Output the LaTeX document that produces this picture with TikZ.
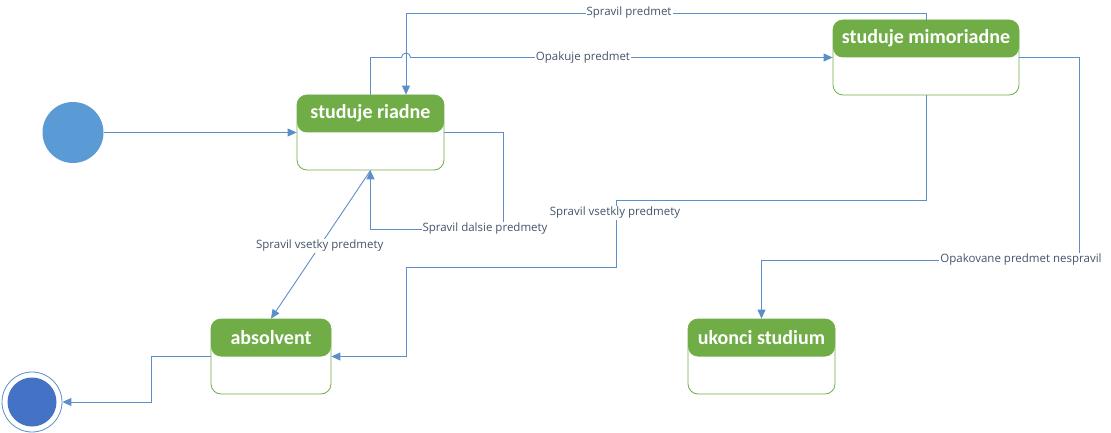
\documentclass[tikz,border=0pt]{standalone}
\usepackage{fontspec}
\setmainfont{Open Sans}
\newfontfamily\titlefont{Carlito}
\usetikzlibrary{arrows.meta}
\definecolor{linec}{HTML}{5B8FC9}
\definecolor{headc}{HTML}{70AD47}
\definecolor{initc}{HTML}{5B9BD5}
\definecolor{finc}{HTML}{4472C4}
\definecolor{lblc}{HTML}{44546A}
\tikzset{
  statebox/.style={draw=headc, line width=0.8pt, rounded corners=10pt, fill=white,
    minimum height=75pt, inner sep=0pt,
    path picture={\fill[headc] ([yshift=-37.5pt]path picture bounding box.north west) rectangle (path picture bounding box.north east);}},
  titletxt/.style={font=\titlefont\bfseries\fontsize{20}{24}\selectfont, text=white, inner sep=0pt},
  lbl/.style={font=\fontsize{11.5}{13}\selectfont, text=lblc, fill=white, inner sep=1pt},
  conn/.style={draw=linec, line width=0.9pt},
  arr/.style={conn, -{Triangle[length=9pt,width=8pt]}},
}
\begin{document}
\begin{tikzpicture}[x=1pt,y=-1pt]
\useasboundingbox (0,0) rectangle (1111,433);
% states
\node[circle, fill=initc, minimum size=61pt, inner sep=0pt] (init) at (73,132.5) {};
\node[statebox, minimum width=147pt] (sr) at (370.5,132.5) {};
\node[titletxt] (srt) at ([yshift=-18.75pt]sr.north) {studuje riadne};
\node[statebox, minimum width=186pt] (sm) at (926,57.5) {};
\node[titletxt] (smt) at ([yshift=-18.75pt]sm.north) {studuje mimoriadne};
\node[statebox, minimum width=120pt] (ab) at (271,356.5) {};
\node[titletxt] (abt) at ([yshift=-18.75pt]ab.north) {absolvent};
\node[statebox, minimum width=147pt] (uk) at (761.5,356.5) {};
\node[titletxt] (ukt) at ([yshift=-18.75pt]uk.north) {ukonci studium};
\node[circle, draw=linec, line width=0.8pt, fill=white, minimum size=60pt, inner sep=0pt,
  path picture={\fill[finc] (path picture bounding box.center) circle (24.5pt);}] (fin) at (32,402) {};
% waypoints
\coordinate (c1) at (406,13);
\coordinate (c2) at (401.5,57.5);
\coordinate (c3) at (503,229);
\coordinate (c4) at (616,200);
\coordinate (c5) at (406,267);
\coordinate (c6) at (1079,260);
\coordinate (c7) at (151,402);
% connectors
\draw[arr] (init) -- (sr.west);
\draw[arr] (sm.north) |- (c1) -- (c1 |- sr.north);
\draw[arr] (sr.north) |- (c2) arc[start angle=180, end angle=0, radius=4.5pt] -- (sm.west);
\draw[arr] (sr.east) -| (c3) -| (sr.south);
\draw[arr] (sr.south) -- (ab.north) node[lbl, pos=0.51] (l5) {Spravil vsetky predmety};
\draw[arr] (sm.south) |- (c4) |- (c5) |- (ab.east);
\draw[arr] (sm.east) -| (c6) -| (uk.north);
\draw[arr] (ab.west) -| (c7) -- (fin);
% labels
\node[lbl] (l1) at (629,13) {Spravil predmet};
\node[lbl] (l2) at (583,57.5) {Opakuje predmet};
\node[lbl] (l3) at (485,229) {Spravil dalsie predmety};
\node[lbl] (l4) at (615,213) {Spravil vsetkly predmety};
\node[lbl] (l6) at (1021,260) {Opakovane predmet nespravil};
\end{tikzpicture}
\end{document}
